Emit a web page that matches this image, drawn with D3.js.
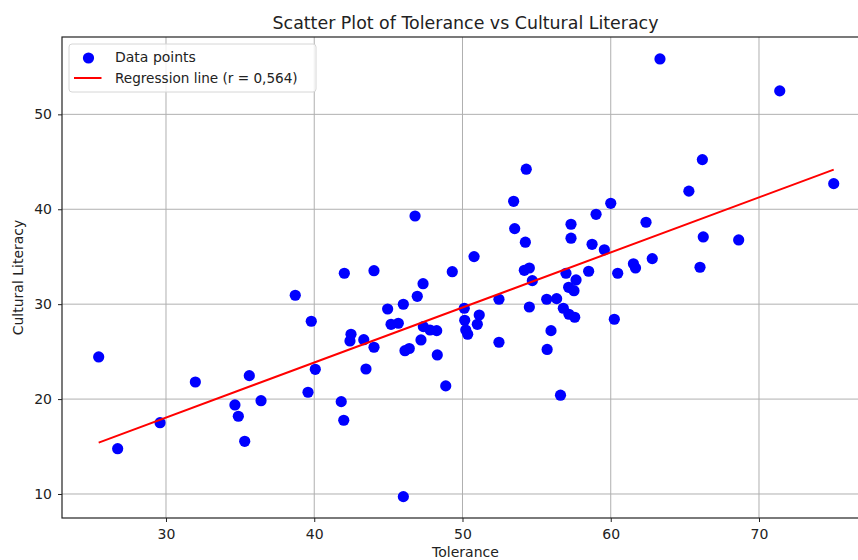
<!DOCTYPE html>
<html><head><meta charset="utf-8">
<script src="https://cdn.jsdelivr.net/npm/d3@7"></script>
<style>body{margin:0;background:#fff;overflow:hidden}svg{display:block}text{font-family:"DejaVu Sans",sans-serif}</style>
</head><body>
<svg id="c" width="858" height="560"></svg>
<script>
const tolerance = [25.46,26.74,29.60,31.98,34.65,34.88,35.31,35.62,36.41,38.72,39.58,39.80,40.07,41.82,41.99,42.03,42.48,42.41,43.34,43.49,44.03,44.03,44.95,45.18,45.67,46.01,46.01,46.12,46.41,46.80,46.95,47.20,47.34,47.36,47.81,48.26,48.30,48.87,49.31,50.15,50.12,50.22,50.35,50.78,51.00,51.13,52.46,52.46,53.45,53.52,54.17,54.24,54.30,54.51,54.51,54.71,55.71,55.68,55.97,56.35,56.61,56.80,56.98,57.16,57.18,57.32,57.32,57.52,57.57,57.66,58.51,58.74,59.01,59.57,60.00,60.24,60.47,61.53,61.67,62.38,62.80,63.32,65.27,66.18,66.24,66.02,68.63,71.40,75.04];
const literacy = [24.44,14.77,17.51,21.80,19.38,18.19,15.55,22.47,19.83,30.94,20.72,28.20,23.14,19.73,17.77,33.26,26.83,26.12,26.26,23.17,33.53,25.46,29.49,27.88,27.99,9.72,29.99,25.10,25.33,39.29,30.83,26.23,32.16,27.63,27.28,27.21,24.65,21.39,33.42,28.30,29.57,27.28,26.83,35.01,27.88,28.86,30.52,25.99,40.84,37.96,33.57,36.53,44.22,33.81,29.70,32.48,25.23,30.52,27.21,30.58,20.41,29.57,33.26,31.78,28.94,38.42,36.95,31.42,28.62,32.55,33.47,36.31,39.47,35.73,40.63,28.41,33.26,34.26,33.81,38.63,34.80,55.84,41.91,45.23,37.08,33.89,36.77,52.47,42.70];
const xTicks = [30,40,50,60,70];
const yTicks = [10,20,30,40,50];
const rLabel = "0,564";

const svg = d3.select("#c");
const L=62, R=869, T=37, B=518;
const x = d3.scaleLinear().domain([22.985, 77.42]).range([L, R]);
const y = d3.scaleLinear().domain([7.47, 58.15]).range([B, T]);

// grid
const g = svg.append("g");
g.selectAll(".gx").data(xTicks).join("line").attr("x1",d=>x(d)).attr("x2",d=>x(d)).attr("y1",T).attr("y2",B).attr("stroke","#b0b0b0").attr("stroke-width",1);
g.selectAll(".gy").data(yTicks).join("line").attr("y1",d=>y(d)).attr("y2",d=>y(d)).attr("x1",L).attr("x2",R).attr("stroke","#b0b0b0").attr("stroke-width",1);

// regression
const n = tolerance.length;
const mx = d3.mean(tolerance), my = d3.mean(literacy);
let sxy=0, sxx=0;
for(let i=0;i<n;i++){sxy+=(tolerance[i]-mx)*(literacy[i]-my);sxx+=(tolerance[i]-mx)**2;}
const slope = sxy/sxx, icpt = my - slope*mx;
const xe = d3.extent(tolerance);

// points
svg.append("g").selectAll("circle").data(tolerance).join("circle")
  .attr("cx",d=>x(d)).attr("cy",(d,i)=>y(literacy[i])).attr("r",5.6).attr("fill","#0000ff");

svg.append("line").attr("x1",x(xe[0])).attr("x2",x(xe[1])).attr("y1",y(slope*xe[0]+icpt)).attr("y2",y(slope*xe[1]+icpt))
  .attr("stroke","#ff0000").attr("stroke-width",2);

// axes
const xa = svg.append("g").attr("transform",`translate(0,${B})`).call(d3.axisBottom(x).tickValues(xTicks).tickSize(4).tickPadding(7));
const ya = svg.append("g").attr("transform",`translate(${L},0)`).call(d3.axisLeft(y).tickValues(yTicks).tickSize(4).tickPadding(6));
[xa,ya].forEach(a=>{a.select(".domain").remove();a.selectAll("text").attr("font-size",14).attr("fill","#222").attr("font-family","DejaVu Sans");a.selectAll("line").attr("stroke","#222");});

// spines
svg.append("rect").attr("x",L).attr("y",T).attr("width",R-L).attr("height",B-T).attr("fill","none").attr("stroke","#222").attr("stroke-width",1.2);

// title & labels
const cx = (L+R)/2;
svg.append("text").attr("x",cx).attr("y",29).attr("text-anchor","middle").attr("font-size",17.4).attr("fill","#222").text("Scatter Plot of Tolerance vs Cultural Literacy");
svg.append("text").attr("x",cx).attr("y",557).attr("text-anchor","middle").attr("font-size",14).attr("fill","#222").text("Tolerance");
svg.append("text").attr("transform",`translate(23,${(T+B)/2}) rotate(-90)`).attr("text-anchor","middle").attr("font-size",14).attr("fill","#222").text("Cultural Literacy");

// legend
const lg = svg.append("g");
lg.append("rect").attr("x",69).attr("y",44).attr("width",247).attr("height",48).attr("rx",3).attr("fill","#fff").attr("fill-opacity",0.8).attr("stroke","#d6d6d6");
lg.append("circle").attr("cx",88.5).attr("cy",58).attr("r",5.6).attr("fill","#0000ff");
lg.append("line").attr("x1",74).attr("x2",101.5).attr("y1",78).attr("y2",78).attr("stroke","#ff0000").attr("stroke-width",2);
lg.append("text").attr("x",115).attr("y",62).attr("font-size",14).attr("fill","#222").text("Data points");
lg.append("text").attr("x",115).attr("y",83).attr("font-size",13.6).attr("fill","#222").text(`Regression line (r = ${rLabel})`);
</script>
</body></html>
